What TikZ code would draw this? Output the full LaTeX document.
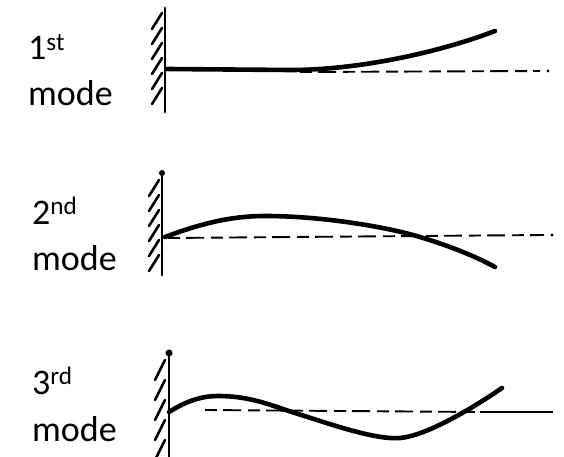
\documentclass[tikz,border=0pt]{standalone}
\usepackage{fontspec}
\setmainfont{Carlito}
\begin{document}
\begin{tikzpicture}[x=1pt, y=-1pt,
    lbl/.style={anchor=base west, inner sep=0pt, font=\fontsize{36}{42}\selectfont},
    wall/.style={line width=2.8pt, line cap=round},
    hatch/.style={line width=2.6pt, line cap=round},
    beam/.style={line width=4.6pt, line cap=round, line join=round},
    axis/.style={line width=1.9pt, dash pattern=on 12pt off 6pt on 18pt off 7pt}
  ]
  \useasboundingbox (0,0) rectangle (564,457);

  % labels
  \node[lbl] (n1) at (28,60) {1\textsuperscript{st}};
  \node[lbl] (m1) at (28,106) {mode};
  \node[lbl] (n2) at (32,224) {2\textsuperscript{nd}};
  \node[lbl] (m2) at (32,270) {mode};
  \node[lbl] (n3) at (32,394) {3\textsuperscript{rd}};
  \node[lbl] (m3) at (32,441) {mode};

  % clamped walls
  \draw[wall] (165,8) -- (165,112);
  \foreach \y in {13,28,...,98} \draw[hatch] (162,\y) -- ++(-10,16);
  \draw[wall] (162,173) -- (162,275);
  \fill (162,173) circle (3pt);
  \foreach \y in {180,195,...,255} \draw[hatch] (159,\y) -- ++(-10,16);
  \draw[wall] (169,353) -- (169,457);
  \fill (169,353) circle (3.5pt);
  \foreach \y in {360,380,...,440} \draw[hatch] (165,\y) -- ++(-10,20);

  % undeformed axes
  \draw[axis] (300,72) -- (540,71);
  \fill (548,71) circle (1.6pt);
  \draw[axis] (168,238) -- (544,235);
  \fill (552,235) circle (1.6pt);
  \draw[axis] (205,410) -- (480,412);
  \draw[line width=1.9pt] (480,412) -- (553,412);

  % mode shapes
  \draw[beam] (167,69) -- (290,70) .. controls (360,70) and (440,52) .. (495,31);
  \draw[beam] (165,237) .. controls (200,224) and (230,216) .. (265,216)
    .. controls (320,216) and (380,226) .. (413,235)
    .. controls (445,244) and (475,256) .. (495,267);
  \draw[beam] (169,412) .. controls (185,402) and (200,396) .. (218,396)
    .. controls (250,396) and (270,405) .. (295,413)
    .. controls (330,424) and (375,440) .. (400,438)
    .. controls (425,436) and (470,410) .. (502,388);
\end{tikzpicture}
\end{document}
